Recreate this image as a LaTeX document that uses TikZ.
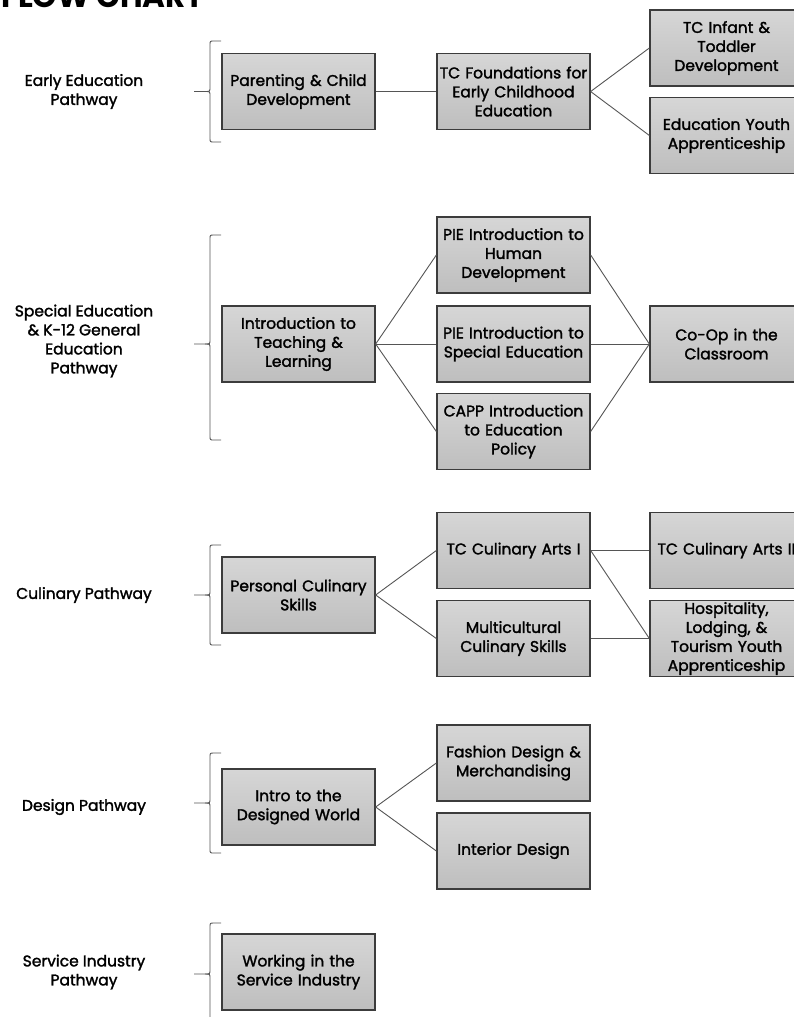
\documentclass[tikz,border=0pt]{standalone}
\usepackage{fontspec}
\setmainfont{Poppins}
\newfontfamily\medfont{Poppins}[FakeBold=1.8]
\usetikzlibrary{positioning}
\definecolor{boxtop}{RGB}{214,214,214}
\definecolor{boxbot}{RGB}{190,190,190}
\definecolor{boxline}{RGB}{60,60,60}
\definecolor{linkgray}{RGB}{85,85,85}
\tikzset{
  course/.style={draw=boxline, line width=1.3pt, top color=boxtop, bottom color=boxbot,
    minimum width=153pt, minimum height=76pt, text width=153pt, align=center, inner sep=0pt,
    font=\medfont\fontsize{15.5}{19}\selectfont},
  pathlabel/.style={align=center, font=\medfont\fontsize{15.5}{19}\selectfont},
  link/.style={draw=linkgray, line width=0.9pt},
  bracestyle/.style={draw=linkgray, line width=0.9pt}
}
% left brace: top y, bottom y, tip y
\newcommand{\pathbrace}[3]{%
  \draw[bracestyle] (221,#1) -- (214,#1) .. controls (210,#1) .. (210,{#1+4})
    -- (210,{#3-4}) .. controls (210,#3) .. (205,#3) -- (194,#3);
  \draw[bracestyle] (205,#3) .. controls (210,#3) .. (210,{#3+4})
    -- (210,{#2-4}) .. controls (210,#2) .. (214,#2) -- (221,#2);
}

\begin{document}
\begin{tikzpicture}[x=1pt, y=-1pt]
		\useasboundingbox (0,0) rectangle (793,1017);
		\node[anchor=base west, inner sep=0pt, font=\fontsize{31}{31}\selectfont\bfseries] (title) at (1,8) {FLOW CHART};
		
		% Early Education
		\node[pathlabel] (lab1) at (84,91.5) {Early Education\\Pathway};
		\pathbrace{41}{142}{91.5}
		\node[course] (parent) at (298.5,91.5) {Parenting \& Child\\Development};
		\node[course] (found) at (513.5,91.5) {TC Foundations for\\Early Childhood\\Education};
		\node[course] (infant) at (726.5,48) {TC Infant \&\\Toddler\\Development};
		\node[course] (youth) at (726.5,135.5) {Education Youth\\Apprenticeship};
		\draw[link] (parent.east) -- (found.west);
		\draw[link] (found.east) -- (infant.west);
		\draw[link] (found.east) -- (youth.west);
		
		% Special Education
		\node[pathlabel] (lab2) at (84,341) {Special Education\\\& K-12 General\\Education\\Pathway};
		\pathbrace{235}{440}{344}
		\node[course] (teach) at (298.5,344) {Introduction to\\Teaching \&\\Learning};
		\node[course] (human) at (513.5,255) {PIE Introduction to\\Human\\Development};
		\node[course] (special) at (513.5,344) {PIE Introduction to\\Special Education};
		\node[course] (policy) at (513.5,431.5) {CAPP Introduction\\to Education\\Policy};
		\node[course] (coop) at (726.5,344) {Co-Op in the\\Classroom};
		\draw[link] (teach.east) -- (human.west);
		\draw[link] (teach.east) -- (special.west);
		\draw[link] (teach.east) -- (policy.west);
		\draw[link] (human.east) -- (coop.west);
		\draw[link] (special.east) -- (coop.west);
		\draw[link] (policy.east) -- (coop.west);
		
		% Culinary
		\node[pathlabel] (lab3) at (84,595) {Culinary Pathway};
		\pathbrace{545}{645}{595}
		\node[course] (personal) at (298.5,595) {Personal Culinary\\Skills};
		\node[course] (artsone) at (513.5,550.5) {TC Culinary Arts I\\[19pt]};
		\node[course] (multi) at (513.5,638.5) {Multicultural\\Culinary Skills};
		\node[course] (artstwo) at (726.5,550.5) {TC Culinary Arts II\\[19pt]};
		\node[course] (hosp) at (726.5,638.5) {Hospitality,\\Lodging, \&\\Tourism Youth\\Apprenticeship};
		\draw[link] (personal.east) -- (artsone.west);
		\draw[link] (personal.east) -- (multi.west);
		\draw[link] (artsone.east) -- (artstwo.west);
		\draw[link] (artsone.east) -- (hosp.west);
		\draw[link] (multi.east) -- (hosp.west);
		
		% Design
		\node[pathlabel] (lab4) at (84,807) {Design Pathway};
		\pathbrace{753}{853}{803}
		\node[course] (designed) at (298.5,807) {Intro to the\\Designed World};
		\node[course] (fashion) at (513.5,763) {Fashion Design \&\\Merchandising};
		\node[course] (interior) at (513.5,851) {Interior Design};
		\draw[link] (designed.east) -- (fashion.west);
		\draw[link] (designed.east) -- (interior.west);
		
		% Service Industry
		\node[pathlabel] (lab5) at (84,972) {Service Industry\\Pathway};
		\pathbrace{923}{1030}{974}
		\node[course] (service) at (298.5,972) {Working in the\\Service Industry};
	\end{tikzpicture}
\end{document}
